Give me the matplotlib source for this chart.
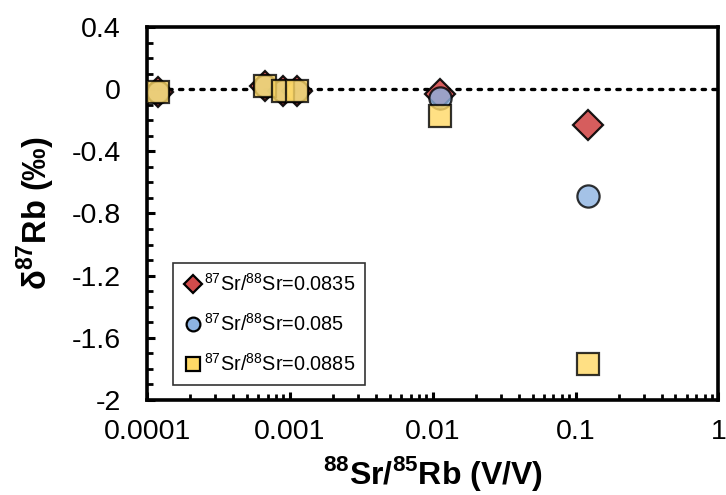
import matplotlib

matplotlib.use("Agg")
import matplotlib.pyplot as plt  # noqa: E402
from matplotlib.ticker import FixedLocator, MultipleLocator, FuncFormatter  # noqa: E402

plt.rcParams["font.family"] = ["Liberation Sans", "DejaVu Sans"]
plt.rcParams["mathtext.fontset"] = "custom"
plt.rcParams["mathtext.rm"] = "Liberation Sans"
plt.rcParams["mathtext.bf"] = "Liberation Sans:bold"

# 88Sr/85Rb signal ratio (V/V)
sr_rb = [0.00012, 0.00067, 0.00089, 0.00113, 0.0113, 0.122]

# delta 87Rb (permil) for the three assumed 87Sr/88Sr values
d87_0835 = [-0.02, 0.02, -0.01, -0.01, -0.03, -0.23]
d87_085 = [-0.02, 0.02, -0.01, -0.01, -0.06, -0.69]
d87_0885 = [-0.02, 0.02, -0.01, -0.01, -0.17, -1.77]

labels = [
    r"$^{87}$Sr/$^{88}$Sr=0.0835",
    r"$^{87}$Sr/$^{88}$Sr=0.085",
    r"$^{87}$Sr/$^{88}$Sr=0.0885",
]
xtick_vals = [1e-4, 1e-3, 1e-2, 1e-1, 1]
xtick_text = ["0.0001", "0.001", "0.01", "0.1", "1"]

fig = plt.figure(figsize=(7.26, 4.95), dpi=100)
ax = fig.add_axes([0.2025, 0.192, 0.787, 0.7535])

ax.axhline(0, color="black", ls=(0, (1, 2.2)), lw=2.4, dash_capstyle="round", zorder=1)

ax.plot(sr_rb, d87_0835, ls="none", marker="D", ms=15, mfc="#d24b4b", mec="black",
        mew=1.6, alpha=0.9, label=labels[0], zorder=3)
ax.plot(sr_rb, d87_085, ls="none", marker="o", ms=16, mfc="#8db3e2", mec="black",
        mew=1.6, alpha=0.8, label=labels[1], zorder=4)
ax.plot(sr_rb, d87_0885, ls="none", marker="s", ms=16, mfc="#ffd966", mec="black",
        mew=1.6, alpha=0.8, label=labels[2], zorder=5)

ax.set_xscale("log")
ax.set_xlim(1e-4, 1)
ax.set_ylim(-2, 0.4)
ax.yaxis.set_major_locator(MultipleLocator(0.4))
ax.yaxis.set_minor_locator(MultipleLocator(0.1))
ax.yaxis.set_major_formatter(FuncFormatter(lambda v, p: "0" if abs(v) < 1e-9 else f"{v:g}"))
ax.xaxis.set_major_locator(FixedLocator(xtick_vals))
ax.set_xticklabels(xtick_text)

ax.tick_params(which="both", direction="in", labelsize=20.5, top=False, right=False)
ax.tick_params(which="major", length=6, width=2.2)
ax.tick_params(which="minor", length=4, width=2)
ax.tick_params(axis="x", pad=14)
ax.tick_params(axis="y", pad=19)
for s in ax.spines.values():
    s.set_linewidth(2.6)

ax.set_xlabel(r"$^{\mathbf{88}}$Sr/$^{\mathbf{85}}$Rb (V/V)", fontsize=23, fontweight="bold", labelpad=6)
ax.set_ylabel(r"δ$^{\mathbf{87}}$Rb (‰)", fontsize=23.5, fontweight="bold", labelpad=10)

leg = ax.legend(loc="lower left", bbox_to_anchor=(0.035, 0.025), fontsize=14.3, frameon=True,
                fancybox=False, edgecolor="black", handletextpad=0.05, handlelength=1.0,
                markerscale=0.62, borderpad=0.5, labelspacing=0.9, borderaxespad=0.3)
leg.get_frame().set_linewidth(1.2)
for h in leg.legend_handles:
    h.set_alpha(1)

fig.savefig("out.png", dpi=100)
plt.close(fig)
